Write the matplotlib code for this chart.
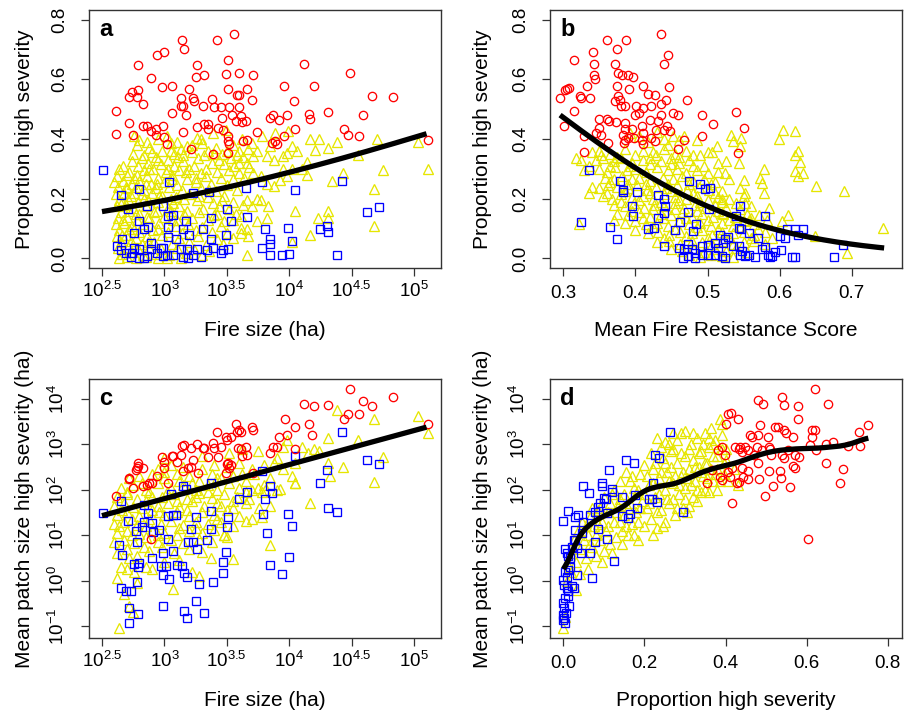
import numpy as np
import matplotlib
matplotlib.use("Agg")
import matplotlib.pyplot as plt

plt.rcParams['font.family'] = ['Liberation Sans', 'DejaVu Sans']
plt.rcParams['mathtext.fontset'] = 'custom'
plt.rcParams['mathtext.rm'] = 'Liberation Sans'
plt.rcParams['mathtext.it'] = 'Liberation Sans:italic'
plt.rcParams['mathtext.bf'] = 'Liberation Sans:bold'

# ---------------- data ----------------
# Panel a: (log10 fire size, proportion high severity)
a_high = [(2.61,0.495),(2.61,0.416),(2.72,0.454),(2.72,0.539),(2.74,0.558),(2.75,0.412),(2.78,0.539),(2.79,0.563),
 (2.79,0.649),(2.83,0.516),(2.83,0.443),(2.86,0.443),(2.89,0.603),(2.89,0.426),(2.93,0.432),(2.93,0.415),(2.94,0.682),
 (2.98,0.575),(2.99,0.443),(3.00,0.691),(3.00,0.407),(3.02,0.382),(3.06,0.488),(3.06,0.579),(3.14,0.731),(3.13,0.538),
 (3.13,0.512),(3.15,0.51),(3.16,0.70),(3.17,0.482),(3.15,0.423),(3.20,0.569),(3.21,0.368),(3.23,0.538),(3.24,0.527),
 (3.26,0.647),(3.25,0.607),(3.26,0.441),(3.32,0.613),(3.31,0.51),(3.32,0.449),(3.35,0.451),(3.35,0.434),(3.38,0.535),
 (3.40,0.507),(3.42,0.73),(3.43,0.437),(3.45,0.507),(3.46,0.469),(3.47,0.43),(3.49,0.617),(3.51,0.663),(3.51,0.566),
 (3.52,0.508),(3.54,0.48),(3.56,0.751),(3.57,0.46),(3.58,0.546),(3.60,0.622),(3.60,0.549),(3.60,0.508),(3.61,0.476),
 (3.62,0.457),(3.66,0.566),(3.65,0.461),(3.70,0.53),(3.71,0.615),(3.74,0.424),(3.51,0.393),(3.52,0.384),(3.51,0.41),
 (3.51,0.354),(3.39,0.351),(3.63,0.393),(3.66,0.398),(3.85,0.471),(3.87,0.482),(3.86,0.387),(3.89,0.393),(3.90,0.382),
 (3.92,0.462),(3.96,0.578),(3.98,0.482),(3.96,0.41),(4.04,0.526),(4.05,0.434),(4.12,0.651),(4.16,0.484),(4.17,0.468),
 (4.20,0.578),(4.31,0.491),(4.44,0.432),(4.47,0.415),(4.49,0.62),(4.56,0.41),(4.59,0.48),(4.66,0.543),(4.83,0.54),
 (5.11,0.398)]
a_low = [(2.51,0.297),(2.65,0.211),(2.80,0.231),(3.04,0.256),(3.23,0.22),(3.36,0.222),(3.65,0.237),(3.78,0.256),
 (4.05,0.228),(4.42,0.261),(2.99,0.175),(3.07,0.147),(3.03,0.142),(2.71,0.164),(2.86,0.175),(3.50,0.166),(3.37,0.136),
 (3.17,0.125),(2.80,0.125),(2.76,0.086),(2.84,0.097),(2.87,0.106),(3.03,0.105),(3.15,0.097),(3.20,0.079),(3.31,0.10),
 (3.03,0.073),(3.09,0.066),(2.66,0.066),(2.89,0.052),(2.97,0.036),(3.37,0.066),(3.49,0.077),(3.53,0.125),(3.66,0.139),
 (3.81,0.097),(3.99,0.103),(4.02,0.057),(3.85,0.066),(3.78,0.036),(3.85,0.049),(3.85,0.01),(3.94,0.01),(4.00,0.015),
 (4.25,0.097),(4.30,0.11),(4.31,0.088),(4.38,0.013),(4.62,0.155),(4.72,0.173),(2.62,0.041),(2.65,0.028),(2.69,0.017),
 (2.73,0.006),(2.76,0.036),(2.80,0.002),(2.84,0.001),(2.80,0.03),(2.89,0.032),(2.99,0.008),(3.02,0.013),(3.07,0.01),
 (3.15,0.006),(3.19,0.002),(3.23,0.01),(3.26,0.032),(3.29,0.006),(3.34,0.028),(3.39,0.036),(3.45,0.019),(3.47,0.028),
 (3.51,0.032),(2.99,0.036),(3.13,0.032),(3.18,0.032),(2.94,0.019),(2.74,0.019),(2.86,0.008)]
a_mid = [(3.89,0.42),(3.99,0.426),(3.98,0.354),(4.02,0.376),(4.06,0.359),(4.17,0.40),(4.24,0.40),(4.21,0.363),
 (4.31,0.37),(4.38,0.39),(4.70,0.40),(5.03,0.389),(5.11,0.30),(4.75,0.296),(4.68,0.231),(4.68,0.108),(4.55,0.348),
 (4.43,0.287),(4.34,0.261),(4.14,0.322),(4.14,0.281),(4.10,0.298),(4.02,0.298),(4.05,0.158),(4.23,0.136),(4.31,0.158),
 (4.31,0.136),(4.17,0.077),(4.02,0.055),(3.66,0.01),(3.82,0.136),(3.74,0.125),(3.83,0.177),(3.77,0.197),(3.74,0.20),
 (3.88,0.242),(3.82,0.248),(3.93,0.264),(3.95,0.298),(3.98,0.276),(3.95,0.343),(3.88,0.331),(3.82,0.343),(3.85,0.376),
 (3.74,0.359),(3.71,0.343),(3.66,0.32),(3.71,0.287),(3.77,0.276),(3.67,0.075),(3.66,0.097),(3.61,0.103),(3.70,0.175),
 (3.66,0.197),(3.61,0.142),(3.55,0.13),(3.61,0.086),
 (2.76,0.41),(2.80,0.395),(2.95,0.40),(3.02,0.41),(3.10,0.39),(3.26,0.405),(3.29,0.40),(3.39,0.42),(3.49,0.43),(3.62,0.40),(3.78,0.41),
 (2.78,0.38),(2.88,0.37),(3.05,0.385),(3.18,0.375),(3.30,0.385),(3.41,0.37),(3.55,0.38),(3.70,0.385),(3.60,0.36),
 (2.90,0.355),(2.98,0.36),(3.08,0.35),(3.13,0.365),(3.22,0.355),(3.35,0.36),(3.46,0.35),(3.58,0.345),(3.67,0.365),(2.84,0.345),
 (2.82,0.335),(2.93,0.34),(3.03,0.33),(3.11,0.34),(3.27,0.335),(3.32,0.345),(3.44,0.33),(3.53,0.335),(3.63,0.34),(2.74,0.325),
 (2.79,0.31),(2.87,0.32),(2.97,0.315),(3.08,0.31),(3.15,0.325),(3.24,0.31),(3.38,0.32),(3.48,0.315),(3.56,0.31),(3.68,0.305),
 (2.64,0.30),(2.72,0.29),(2.84,0.295),(2.91,0.30),(3.01,0.29),(3.12,0.295),(3.20,0.30),(3.29,0.285),(3.42,0.29),(3.52,0.295),(3.60,0.285),
 (2.62,0.275),(2.70,0.28),(2.76,0.27),(2.86,0.275),(2.95,0.27),(3.06,0.28),(3.18,0.265),(3.33,0.275),(3.45,0.27),(3.55,0.265),(3.64,0.27),
 (2.60,0.255),(2.67,0.26),(2.74,0.25),(2.80,0.26),(2.89,0.25),(3.00,0.255),(3.10,0.245),(3.25,0.255),(3.37,0.25),(3.50,0.245),
 (2.63,0.24),(2.70,0.235),(2.77,0.24),(2.84,0.23),(2.93,0.235),(3.04,0.24),(3.14,0.23),(3.29,0.235),(3.41,0.225),
 (2.61,0.215),(2.68,0.22),(2.73,0.21),(2.82,0.215),(2.90,0.22),(2.98,0.21),(3.09,0.205),(3.20,0.215),(3.35,0.205),(3.46,0.195),
 (2.64,0.195),(2.71,0.20),(2.79,0.19),(2.87,0.195),(2.95,0.19),(3.07,0.185),(3.26,0.195),(3.39,0.185),(3.55,0.19),(3.63,0.18),
 (2.62,0.175),(2.69,0.18),(2.75,0.17),(2.85,0.175),(3.03,0.17),(3.12,0.175),(3.31,0.165),(3.44,0.175),(3.52,0.165),
 (2.65,0.155),(2.72,0.16),(2.80,0.15),(2.92,0.155),(3.05,0.16),(3.16,0.15),(3.28,0.155),(3.40,0.145),(3.57,0.15),
 (2.63,0.135),(2.70,0.14),(2.78,0.13),(2.88,0.135),(3.00,0.14),(3.10,0.13),(3.22,0.135),(3.35,0.13),(3.48,0.125),
 (2.61,0.115),(2.68,0.12),(2.74,0.11),(2.83,0.115),(2.96,0.12),(3.09,0.11),(3.19,0.115),(3.30,0.105),(3.45,0.11),
 (2.64,0.095),(2.72,0.10),(2.80,0.09),(2.91,0.095),(3.03,0.09),(3.14,0.085),(3.25,0.095),(3.38,0.09),(3.50,0.085),
 (2.62,0.075),(2.69,0.08),(2.77,0.07),(2.86,0.075),(2.98,0.08),(3.12,0.07),(3.27,0.075),(3.42,0.065),(3.55,0.07),
 (2.65,0.055),(2.73,0.06),(2.82,0.05),(2.92,0.055),(3.06,0.05),(3.20,0.055),(3.33,0.045),(3.47,0.05),
 (2.63,0.035),(2.71,0.04),(2.79,0.03),(2.88,0.035),(2.97,0.03),(3.10,0.035),(3.24,0.03),(3.36,0.025),
 (2.66,0.015),(2.74,0.02),(2.83,0.01),(2.93,0.015),(3.04,0.012),(3.17,0.018),(3.30,0.01),
 (2.64,0.0),(2.70,0.005),(2.77,0.0),(2.85,0.004),(2.95,0.0),(3.02,0.003),(3.13,0.0),
 (2.67,0.31),(2.69,0.24),(2.66,0.19),(2.67,0.13),(2.66,0.08),(2.75,0.35),(2.78,0.28),(2.76,0.22),(2.77,0.15),
 (2.76,0.10),(2.86,0.39),(2.88,0.30),(2.85,0.25),(2.84,0.20),(2.86,0.14),(2.87,0.055),(2.95,0.33),(2.94,0.25),
 (2.96,0.21),(2.94,0.16),(2.95,0.10),(3.05,0.36),(3.03,0.30),(3.06,0.265),(3.05,0.20),(3.07,0.13),(3.15,0.345),
 (3.17,0.29),(3.16,0.20),(3.18,0.16),(3.22,0.38),(3.25,0.27),(3.28,0.21),(3.33,0.30),(3.36,0.23),(3.40,0.35),
 (3.42,0.15),(3.50,0.36),(3.48,0.21),(3.58,0.23),(3.60,0.32)]

# Panel b: (mean fire resistance score, proportion high severity)
b_high = [(0.296,0.538),(0.301,0.443),(0.302,0.563),(0.305,0.569),(0.308,0.572),(0.315,0.663),(0.315,0.495),
 (0.323,0.543),(0.324,0.538),(0.328,0.41),(0.329,0.356),(0.333,0.579),(0.337,0.538),(0.341,0.691),(0.342,0.65),
 (0.343,0.613),(0.344,0.602),(0.345,0.421),(0.349,0.468),(0.35,0.437),(0.352,0.415),(0.36,0.73),(0.36,0.468),
 (0.363,0.46),(0.362,0.387),(0.371,0.65),(0.373,0.456),(0.375,0.70),(0.376,0.622),(0.375,0.579),(0.371,0.527),
 (0.376,0.543),(0.379,0.532),(0.38,0.51),(0.386,0.512),(0.381,0.613),(0.387,0.73),(0.39,0.616),(0.396,0.608),
 (0.391,0.566),(0.386,0.452),(0.383,0.413),(0.385,0.432),(0.386,0.398),(0.39,0.404),(0.384,0.387),(0.395,0.432),
 (0.398,0.404),(0.401,0.51),(0.399,0.479),(0.405,0.486),(0.41,0.504),(0.41,0.579),(0.409,0.443),(0.411,0.421),
 (0.409,0.398),(0.411,0.382),(0.417,0.551),(0.42,0.465),(0.421,0.51),(0.422,0.404),(0.427,0.549),(0.427,0.393),
 (0.429,0.43),(0.432,0.46),(0.435,0.479),(0.436,0.752),(0.435,0.518),(0.439,0.65),(0.442,0.532),(0.445,0.682),
 (0.447,0.573),(0.444,0.443),(0.448,0.426),(0.44,0.429),(0.452,0.488),(0.459,0.482),(0.459,0.368),(0.467,0.398),
 (0.472,0.532),(0.492,0.41),(0.493,0.482),(0.508,0.449),(0.539,0.491),(0.542,0.352),(0.551,0.437)]
b_low = [(0.325,0.123),(0.336,0.296),(0.365,0.106),(0.375,0.066),(0.378,0.259),(0.383,0.229),(0.383,0.222),
 (0.402,0.222),(0.395,0.177),(0.397,0.142),(0.418,0.097),(0.426,0.102),(0.431,0.136),(0.431,0.214),(0.439,0.153),
 (0.439,0.198),(0.441,0.175),(0.439,0.041),(0.455,0.094),(0.462,0.122),(0.473,0.155),(0.474,0.261),(0.48,0.092),
 (0.484,0.117),(0.489,0.248),(0.497,0.233),(0.503,0.235),(0.502,0.164),
 (0.461,0.036),(0.467,0.032),(0.466,0.002),(0.473,0.008),(0.483,0.002),(0.492,0.013),(0.501,0.013),(0.51,0.01),
 (0.52,0.008),(0.524,0.002),(0.492,0.041),(0.501,0.044),(0.51,0.052),(0.515,0.036),(0.524,0.064),(0.529,0.073),
 (0.536,0.041),(0.543,0.041),(0.548,0.025),(0.54,0.142),(0.545,0.175),(0.543,0.103),(0.546,0.097),(0.557,0.086),
 (0.557,0.01),(0.566,0.006),(0.552,0.008),(0.545,0.01),(0.57,0.069),(0.58,0.142),(0.58,0.039),(0.584,0.01),
 (0.589,0.008),(0.587,0.004),(0.575,0.03),(0.593,0.021),(0.602,0.028),(0.601,0.075),(0.608,0.069),(0.61,0.097),
 (0.617,0.004),(0.622,0.004),(0.621,0.097),(0.626,0.08),(0.633,0.097),(0.675,0.004),(0.688,0.044),(0.473,0.047),
 (0.478,0.03),(0.483,0.019),(0.517,0.077),(0.522,0.052)]
b_mid = [(0.599,0.40),(0.605,0.429),(0.622,0.426),(0.626,0.359),(0.622,0.345),(0.628,0.324),(0.621,0.292),
 (0.625,0.276),(0.633,0.287),(0.651,0.242),(0.689,0.225),(0.744,0.103),(0.694,0.019),(0.649,0.075),(0.612,0.147),
 (0.604,0.125),(0.578,0.30),(0.573,0.27),(0.575,0.253),(0.578,0.22),(0.585,0.17),(0.582,0.13),(0.547,0.404),
 (0.533,0.415),(0.536,0.393),(0.545,0.376),(0.543,0.32),(0.55,0.264),(0.524,0.287),(0.515,0.32),(0.513,0.376),
 (0.501,0.356),(0.485,0.398),(0.467,0.41),(0.552,0.22),(0.552,0.186),(0.557,0.13),(0.52,0.198),(0.52,0.153),
 (0.393,0.42),(0.43,0.425),(0.452,0.41),(0.44,0.40),(0.417,0.39),(0.46,0.395),(0.405,0.41),
 (0.317,0.335),(0.325,0.33),(0.328,0.295),(0.335,0.22),(0.34,0.24),(0.322,0.115),(0.335,0.31),
 (0.34,0.355),(0.35,0.36),(0.365,0.35),(0.385,0.365),(0.41,0.36),(0.425,0.355),(0.44,0.365),(0.455,0.35),(0.47,0.36),(0.49,0.345),(0.506,0.355),
 (0.345,0.33),(0.355,0.335),(0.37,0.325),(0.38,0.335),(0.395,0.32),(0.41,0.33),(0.42,0.335),(0.435,0.325),(0.45,0.335),(0.46,0.32),(0.475,0.33),(0.495,0.31),(0.525,0.325),
 (0.35,0.30),(0.36,0.29),(0.372,0.305),(0.388,0.295),(0.40,0.30),(0.415,0.29),(0.43,0.305),(0.445,0.295),(0.458,0.30),(0.47,0.285),(0.485,0.295),(0.50,0.285),(0.515,0.29),
 (0.358,0.27),(0.37,0.265),(0.382,0.275),(0.395,0.265),(0.405,0.27),(0.42,0.26),(0.438,0.27),(0.452,0.265),(0.465,0.275),(0.48,0.26),(0.495,0.265),(0.51,0.255),(0.53,0.265),
 (0.35,0.235),(0.362,0.245),(0.375,0.24),(0.39,0.235),(0.402,0.245),(0.416,0.23),(0.428,0.24),(0.443,0.235),(0.458,0.245),(0.472,0.23),(0.488,0.24),(0.502,0.23),(0.52,0.225),(0.545,0.235),
 (0.355,0.21),(0.368,0.20),(0.38,0.215),(0.395,0.205),(0.41,0.21),(0.425,0.20),(0.44,0.215),(0.455,0.205),(0.47,0.20),(0.485,0.21),(0.50,0.195),(0.515,0.205),(0.53,0.20),(0.55,0.21),
 (0.37,0.18),(0.385,0.175),(0.398,0.185),(0.412,0.17),(0.426,0.18),(0.44,0.175),(0.455,0.185),(0.468,0.17),(0.482,0.18),(0.497,0.17),(0.51,0.18),(0.525,0.17),(0.54,0.185),(0.56,0.175),
 (0.375,0.15),(0.39,0.145),(0.405,0.155),(0.42,0.14),(0.435,0.15),(0.45,0.145),(0.465,0.155),(0.478,0.14),(0.492,0.15),(0.508,0.14),(0.522,0.15),(0.538,0.14),(0.555,0.15),(0.572,0.145),
 (0.37,0.13),(0.385,0.12),(0.40,0.125),(0.415,0.115),(0.43,0.12),(0.445,0.11),(0.46,0.125),(0.475,0.115),(0.49,0.12),(0.505,0.11),(0.52,0.12),(0.535,0.11),(0.55,0.125),(0.565,0.115),
 (0.40,0.095),(0.418,0.085),(0.432,0.09),(0.447,0.08),(0.462,0.09),(0.478,0.085),(0.492,0.095),(0.506,0.08),(0.52,0.09),(0.535,0.085),(0.55,0.09),(0.565,0.08),(0.58,0.09),
 (0.43,0.055),(0.447,0.06),(0.462,0.05),(0.478,0.06),(0.492,0.055),(0.506,0.05),(0.52,0.06),(0.535,0.05),(0.55,0.055),(0.565,0.06),(0.58,0.05),
 (0.45,0.03),(0.465,0.025),(0.48,0.035),(0.495,0.02),(0.51,0.03),(0.525,0.025),(0.54,0.035),(0.555,0.02),
 (0.475,0.01),(0.49,0.005),(0.505,0.01),(0.52,0.008),(0.535,0.005),
 (0.352,0.345),(0.375,0.34),(0.40,0.345),(0.428,0.345),(0.445,0.38),(0.46,0.34),(0.48,0.345),(0.365,0.31),
 (0.392,0.31),(0.42,0.315),(0.45,0.315),(0.48,0.31),(0.365,0.255),(0.39,0.25),(0.415,0.25),(0.445,0.25),
 (0.475,0.25),(0.505,0.25),(0.36,0.22),(0.385,0.225),(0.42,0.22),(0.45,0.225),(0.48,0.22),(0.51,0.22),
 (0.38,0.19),(0.405,0.195),(0.435,0.19),(0.46,0.195),(0.49,0.19),(0.52,0.19),(0.395,0.16),(0.425,0.165),
 (0.455,0.165),(0.485,0.16),(0.515,0.16),(0.545,0.165),(0.41,0.135),(0.44,0.135),(0.47,0.135),(0.50,0.13),
 (0.53,0.13),(0.56,0.135),(0.425,0.105),(0.455,0.10),(0.485,0.105),(0.515,0.10),(0.545,0.105),(0.57,0.10),
 (0.44,0.07),(0.47,0.075),(0.50,0.07),(0.53,0.07),(0.56,0.07),(0.59,0.07)]

# Panel c: (log10 fire size, log10 mean patch size)
c_high = [(2.61,1.86),(2.72,2.23),(2.72,2.27),(2.75,2.05),(2.79,2.58),(2.79,2.52),(2.78,2.49),(2.77,2.44),(2.83,2.47),
 (2.83,2.08),(2.86,2.11),(2.88,2.14),(2.90,2.14),(2.94,2.30),(2.89,0.91),(2.98,2.73),(3.00,2.62),(3.00,2.47),
 (3.06,2.74),(3.07,2.74),(3.03,2.14),(3.10,2.62),(3.13,2.77),(3.14,2.96),(3.16,2.99),(3.15,2.42),(3.19,2.47),
 (3.21,2.51),(3.21,2.91),(3.23,2.66),(3.26,3.00),(3.27,2.36),(3.31,2.91),(3.32,2.91),(3.35,2.73),(3.39,3.04),
 (3.42,3.27),(3.40,2.91),(3.45,2.95),(3.43,2.73),(3.49,2.36),(3.50,2.57),(3.51,2.60),(3.53,2.55),(3.52,2.47),
 (3.50,3.10),(3.49,3.16),(3.53,3.17),(3.57,3.44),(3.58,3.28),(3.60,3.32),(3.61,3.28),(3.61,2.89),(3.59,2.91),
 (3.62,2.74),(3.66,2.77),(3.65,2.94),(3.70,3.38),(3.71,3.32),(3.71,2.38),(3.85,2.82),(3.87,2.94),(3.90,2.94),
 (3.92,3.17),(3.97,3.57),(3.98,3.21),(4.05,3.38),(4.05,2.89),(4.12,3.88),(4.16,3.44),(4.18,3.21),(4.20,3.85),
 (4.31,3.87),(4.44,3.56),(4.47,3.68),(4.49,4.22),(4.56,3.68),(4.59,3.96),(4.66,3.85),(4.83,4.04),(5.11,3.44)]
c_low = [(2.51,1.48),(2.65,1.76),(2.64,0.78),(2.66,0.56),(2.65,-0.17),(2.69,-0.22),(2.73,-0.22),(2.72,-0.60),
 (2.72,-0.93),(2.79,-0.74),(2.78,-0.02),(2.71,1.32),(2.76,0.37),(2.79,0.31),(2.80,0.39),(2.77,1.10),(2.78,0.86),
 (2.82,1.19),(2.84,1.30),(2.87,1.48),(2.84,1.67),(2.90,1.26),(2.91,1.06),(2.90,0.49),(2.96,1.11),(2.97,0.32),
 (2.99,0.60),(2.99,0.12),(3.01,0.32),(2.99,-0.56),(3.03,0.91),(3.03,1.42),(3.05,1.91),(3.04,0.03),(3.07,0.66),
 (3.07,1.44),(3.09,1.44),(3.15,2.08),(3.17,2.01),(3.10,0.34),(3.14,0.32),(3.16,0.16),(3.18,0.09),(3.16,-0.66),
 (3.18,-0.83),(3.19,0.84),(3.23,0.84),(3.26,0.69),(3.21,1.13),(3.25,1.39),(3.25,-0.45),(3.28,-0.08),(3.32,-0.71),
 (3.34,0.89),(3.37,1.13),(3.37,1.54),(3.39,-0.02),(3.37,2.16),(3.47,0.17),(3.47,0.42),(3.49,0.62),(3.50,1.17),
 (3.51,1.41),(3.60,1.79),(3.66,1.96),(3.79,1.47),(3.78,2.42),(3.81,1.79),(3.82,1.04),(3.85,2.08),(3.86,1.92),
 (3.85,0.34),(3.94,0.14),(3.99,1.47),(4.00,0.51),(4.02,1.20),(4.05,2.74),(4.25,2.14),(4.30,2.44),(4.31,1.61),
 (4.38,1.52),(4.42,3.28),(4.62,2.66),(4.72,2.57)]
c_mid = [(3.0,2.7),(3.3,2.75),(3.52,2.8),(3.62,2.9),(3.75,2.85),(3.9,2.7),(3.98,3.1),(4.1,2.95),(4.15,2.82),
 (2.95,2.45),(3.05,2.55),(3.15,2.5),(3.3,2.45),(3.4,2.55),(3.5,2.5),(3.6,2.6),(3.7,2.45),(3.8,2.55),(3.95,2.45),(4.05,2.6),
 (2.72,2.25),(2.8,2.3),(2.9,2.35),(3.0,2.25),(3.1,2.35),(3.2,2.3),(3.28,2.2),(3.38,2.35),(3.45,2.25),(3.55,2.3),(3.65,2.2),(3.72,2.35),(3.85,2.25),
 (2.65,2.05),(2.75,2.1),(2.85,2.0),(2.95,2.15),(3.05,2.05),(3.15,2.1),(3.25,2.0),(3.35,2.1),(3.42,2.0),(3.52,2.15),(3.6,2.05),(3.7,2.0),(3.8,2.1),(3.9,2.0),(4.05,2.15),
 (2.62,1.85),(2.7,1.9),(2.78,1.8),(2.88,1.95),(2.98,1.85),(3.08,1.9),(3.18,1.8),(3.28,1.92),(3.38,1.82),(3.48,1.9),(3.58,1.85),(3.68,1.8),(3.78,1.95),
 (2.6,1.65),(2.68,1.7),(2.75,1.62),(2.85,1.75),(2.95,1.65),(3.03,1.7),(3.12,1.62),(3.22,1.75),(3.32,1.65),(3.42,1.72),(3.55,1.6),(3.65,1.7),(3.76,1.6),(3.85,1.65),
 (2.62,1.45),(2.7,1.5),(2.8,1.42),(2.9,1.55),(3.0,1.45),(3.1,1.52),(3.2,1.42),(3.3,1.5),(3.4,1.45),(3.5,1.55),(3.6,1.42),(3.7,1.35),(3.78,1.4),
 (2.6,1.25),(2.68,1.3),(2.78,1.22),(2.88,1.35),(2.97,1.25),(3.05,1.32),(3.15,1.22),(3.25,1.3),(3.35,1.25),(3.45,1.3),(3.55,1.2),(3.65,1.32),
 (2.62,1.05),(2.7,1.1),(2.8,1.02),(2.9,1.12),(3.0,1.05),(3.1,1.0),(3.2,1.1),(3.3,1.05),(3.4,1.12),(3.48,1.0),
 (2.6,0.85),(2.68,0.9),(2.76,0.82),(2.85,0.95),(2.95,0.85),(3.05,0.9),(3.15,0.82),(3.28,0.92),(3.38,0.85),(3.5,0.95),
 (2.62,0.6),(2.7,0.7),(2.78,0.55),(2.88,0.65),(2.98,0.75),(3.08,0.6),(3.2,0.7),(3.3,0.62),(3.37,0.5),(3.55,0.47),
 (2.65,0.3),(2.7,0.25),(2.76,0.2),(2.85,0.3),(2.9,0.25),(3.0,0.4),(3.22,0.2),(3.28,0.1),
 (2.62,0.05),(2.78,-0.05),(2.68,-0.3),(2.72,-0.55),(3.07,-0.18),(2.64,-1.05),(2.75,-0.7),
 (4.38,3.76),(4.68,3.57),(5.03,3.62),(5.11,3.24),(4.75,2.72),(4.68,2.18),(4.55,3.1),(4.31,3.14),(4.31,2.6),
 (4.33,2.3),(4.17,1.72),(4.05,2.14),(3.85,0.78),(3.81,2.0),(3.93,2.02),(3.75,2.05),(3.48,1.0),(4.24,2.85),
 (4.43,2.5),(4.20,2.9),(3.95,2.95),(4.02,2.3),(3.88,2.6),
 (2.66,1.55),(2.74,1.35),(2.82,1.6),(2.9,1.85),(2.96,1.5),(3.02,1.95),(3.1,1.75),(3.18,1.55),(3.25,1.85),
 (3.35,1.95),(3.45,1.65),(3.55,1.75),(3.65,1.95),(2.7,1.95),(2.82,2.15),(3.0,2.4),(3.12,2.2),(3.22,2.15),
 (3.42,2.25),(3.62,2.35),(2.64,1.2),(2.74,1.0),(2.85,1.2),(2.95,1.0),(3.12,1.15),(3.25,1.15),(3.42,1.35),
 (2.72,0.5),(2.84,0.75),(3.12,0.45)]

# Panel d: (proportion high severity, log10 mean patch size)
d_high = [(0.354,2.14),(0.366,2.44),(0.382,2.88),(0.391,2.94),(0.399,2.77),(0.40,3.45),(0.407,3.67),(0.414,3.70),
 (0.43,3.56),(0.417,1.72),(0.405,2.40),(0.411,2.29),(0.415,2.47),(0.423,2.95),(0.432,2.89),(0.427,2.14),(0.433,2.18),
 (0.44,2.47),(0.444,2.29),(0.448,2.95),(0.456,2.88),(0.46,3.21),(0.465,3.17),(0.456,2.42),(0.456,2.23),(0.469,2.77),
 (0.477,2.95),(0.481,3.21),(0.481,3.98),(0.481,2.58),(0.482,2.23),(0.485,3.43),(0.493,3.88),(0.496,1.86),(0.505,3.17),
 (0.507,2.94),(0.51,2.89),(0.507,2.42),(0.512,2.77),(0.516,2.08),(0.522,3.38),(0.529,3.39),(0.539,4.05),(0.543,3.87),
 (0.539,2.77),(0.543,2.69),(0.535,2.42),(0.537,2.25),(0.545,3.32),(0.549,3.26),(0.559,2.07),(0.565,3.16),(0.565,2.52),
 (0.572,2.47),(0.572,2.77),(0.578,3.85),(0.578,3.57),(0.58,2.73),(0.603,0.91),(0.609,2.99),(0.614,3.17),(0.614,3.32),
 (0.621,3.32),(0.621,4.21),(0.623,2.88),(0.647,2.58),(0.647,3.01),(0.652,3.88),(0.664,3.06),(0.682,2.16),(0.69,2.46),
 (0.701,2.96),(0.729,3.28),(0.732,2.96),(0.752,3.43),(0.436,2.95),(0.44,2.84),(0.387,2.29),(0.391,2.22),(0.489,2.88),
 (0.555,2.88)]
d_low = [(0.0,1.31),(0.012,1.54),(0.029,1.41),(0.035,1.44),(0.029,1.11),(0.004,0.69),(0.008,0.60),(0.012,0.54),
 (0.016,0.49),(0.021,0.75),(0.025,0.89),(0.016,0.31),(0.012,0.23),(0.004,0.20),(0.008,0.09),(0.0,0.01),(0.002,-0.10),
 (0.008,-0.17),(0.012,-0.22),(0.004,-0.39),(0.0,-0.50),(0.002,-0.61),(0.006,-0.71),(0.002,-0.83),(0.004,-0.94),
 (0.0,-0.76),(0.0,-0.87),(0.011,-0.35),(0.014,-0.57),(0.021,-0.12),(0.027,-0.17),(0.033,0.12),(0.044,0.60),(0.045,1.04),
 (0.049,1.28),(0.048,2.09),(0.063,1.94),(0.066,1.44),(0.066,0.60),(0.07,0.05),(0.077,0.86),(0.085,1.13),(0.085,1.63),
 (0.09,1.70),(0.095,2.08),(0.096,2.16),(0.101,1.82),(0.104,1.79),(0.107,1.48),(0.107,0.91),(0.113,2.44),(0.121,2.01),
 (0.119,1.96),(0.126,0.44),(0.144,1.42),(0.154,2.66),(0.16,1.37),(0.175,2.58),(0.177,1.89),(0.181,1.59),(0.21,1.79),
 (0.222,2.14),(0.226,2.77),(0.236,2.69),(0.23,1.74),(0.262,3.28),(0.296,1.50),(0.218,1.79),(0.078,1.50),(0.144,1.85),
 (0.164,1.47),(0.029,0.89),(0.033,0.71)]
d_mid = [(0.01,0.0),(0.015,0.3),(0.02,0.6),(0.025,0.9),(0.03,0.4),(0.035,1.1),(0.04,0.7),(0.045,1.3),(0.03,-0.2),
 (0.0,-1.05),(0.005,-0.8),(0.02,0.2),(0.04,0.15),
 (0.055,0.5),(0.06,1.0),(0.065,1.4),(0.07,0.75),(0.075,1.2),(0.08,0.55),(0.085,1.55),(0.09,0.9),(0.095,1.3),(0.1,1.85),(0.1,0.65),(0.06,0.25),
 (0.105,1.1),(0.11,1.5),(0.115,0.8),(0.12,1.9),(0.125,1.3),(0.13,0.95),(0.135,1.65),(0.14,2.2),(0.145,1.1),(0.15,1.45),(0.15,1.9),
 (0.155,2.4),(0.16,1.0),(0.165,1.7),(0.17,1.25),(0.175,2.05),(0.18,1.5),(0.185,0.9),(0.19,2.35),(0.195,1.75),(0.2,1.2),(0.2,2.55),(0.165,2.2),(0.18,1.9),
 (0.205,1.6),(0.21,2.1),(0.215,1.35),(0.22,2.45),(0.225,1.85),(0.23,1.15),(0.23,3.13),(0.235,2.25),(0.24,1.55),(0.245,2.7),(0.25,2.0),(0.25,1.3),(0.215,2.8),(0.24,2.95),
 (0.255,2.4),(0.26,1.7),(0.265,2.85),(0.27,2.15),(0.275,1.45),(0.28,2.6),(0.285,1.9),(0.29,3.25),(0.29,2.3),(0.295,1.6),(0.3,2.75),(0.3,2.05),(0.305,1.5),(0.26,3.0),(0.28,3.1),
 (0.31,2.45),(0.315,3.0),(0.32,1.85),(0.32,2.65),(0.325,2.2),(0.33,3.15),(0.335,2.5),(0.34,1.95),(0.34,2.85),(0.345,2.3),(0.35,3.25),(0.35,2.0),(0.31,1.65),(0.33,1.75),
 (0.355,2.6),(0.36,2.95),(0.365,3.35),(0.37,2.2),(0.37,2.75),(0.375,3.1),(0.38,2.45),(0.385,3.55),(0.39,3.45),(0.39,2.9),(0.395,2.35),(0.38,2.0),(0.4,2.65),(0.36,1.95),
 (0.405,2.2),(0.42,2.45),(0.43,2.1),
 (0.05,0.9),(0.055,1.2),(0.065,0.8),(0.07,1.6),(0.08,1.0),(0.085,1.25),(0.09,1.6),(0.095,0.4),(0.11,1.2),
 (0.115,1.7),(0.12,0.6),(0.125,2.0),(0.13,1.5),(0.14,1.3),(0.14,1.8),(0.145,0.8),(0.155,1.2),(0.16,1.6),
 (0.17,2.3),(0.175,1.0),(0.185,1.3),(0.185,2.0),(0.19,1.6),(0.2,1.9),(0.205,2.3),(0.21,1.7),(0.22,1.0),
 (0.22,2.15),(0.225,2.6),(0.23,1.5),(0.235,1.9),(0.24,2.4),(0.245,1.2),(0.25,2.6),(0.255,1.8),(0.26,2.2),
 (0.265,2.5),(0.27,1.8),(0.27,2.9),(0.275,2.3),(0.28,1.6),(0.285,2.1),(0.29,2.8),(0.295,2.4),(0.3,1.8),
 (0.305,2.25),(0.31,2.9),(0.315,2.1),(0.32,3.25),(0.325,2.5),(0.33,2.0),(0.335,2.8),(0.34,2.4),(0.345,3.0),
 (0.35,2.6),(0.355,2.25),(0.36,3.15),(0.365,2.45),(0.37,3.0),(0.375,2.35),(0.38,2.75),(0.385,2.2),(0.39,3.2),
 (0.395,2.6),(0.4,2.9),(0.3,3.3),(0.27,3.25),(0.25,3.05)]

# Fitted models
fit_a = (-2.979, 0.519)      # logit(prop) = b0 + b1*log10(size)
fit_b = (2.048, -7.2)        # logit(prop) = b0 + b1*FRS
fit_c = (-0.445, 0.75)       # log10(patch) = b0 + b1*log10(size)
fit_d_prop = [0.0, 0.012, 0.025, 0.041, 0.062, 0.086, 0.115, 0.144, 0.169, 0.193, 0.226, 0.259, 0.292, 0.325,
              0.358, 0.391, 0.424, 0.456, 0.489, 0.522, 0.555, 0.588, 0.621, 0.654, 0.687, 0.72, 0.752]
fit_d_logpatch = [0.09, 0.42, 0.78, 1.04, 1.22, 1.37, 1.48, 1.59, 1.78, 1.96, 2.07, 2.10, 2.18, 2.33,
                  2.44, 2.52, 2.58, 2.69, 2.79, 2.86, 2.89, 2.91, 2.91, 2.94, 2.96, 3.04, 3.16]

# ---------------- drawing ----------------
RED, BLUE, YEL = '#FF0000', '#0000FF', '#E6E600'
BOXC = '#333333'
fig = plt.figure(figsize=(9.10, 7.11), dpi=100)
W, H = 910, 711

def add_ax(l, t, r, b):
    return fig.add_axes([l / W, 1 - b / H, (r - l) / W, (b - t) / H])

axa = add_ax(89, 10, 441, 268)
axb = add_ax(550, 10, 902, 268)
axc = add_ax(89, 379, 441, 638)
axd = add_ax(550, 379, 902, 638)

def scatter_sets(ax, mid, low, high, tx, ty):
    for pts, mk, col, ms in [(mid, '^', YEL, 7.6), (low, 's', BLUE, 5.8), (high, 'o', RED, 6.0)]:
        x = tx(np.array([p[0] for p in pts]))
        y = ty(np.array([p[1] for p in pts]))
        ax.plot(x, y, linestyle='none', marker=mk, markersize=ms, markerfacecolor='none',
                markeredgecolor=col, markeredgewidth=0.95)

ident = lambda v: v
pow10 = lambda v: 10.0 ** v

scatter_sets(axa, a_mid, a_low, a_high, pow10, ident)
scatter_sets(axb, b_mid, b_low, b_high, ident, ident)
scatter_sets(axc, c_mid, c_low, c_high, pow10, pow10)
scatter_sets(axd, d_mid, d_low, d_high, ident, pow10)

LW = 3.8
xs = np.linspace(2.5, 5.1, 200)
axa.plot(10 ** xs, 1 / (1 + np.exp(-(fit_a[0] + fit_a[1] * xs))), color='black', lw=LW, solid_capstyle='butt')
xb = np.linspace(0.2955, 0.745, 200)
axb.plot(xb, 1 / (1 + np.exp(-(fit_b[0] + fit_b[1] * xb))), color='black', lw=LW, solid_capstyle='butt')
axc.plot(10 ** xs, 10 ** (fit_c[0] + fit_c[1] * xs), color='black', lw=LW, solid_capstyle='butt')
xd = np.linspace(fit_d_prop[0], fit_d_prop[-1], 300)
yd = np.interp(xd, fit_d_prop, fit_d_logpatch)
k = 9
yd_s = np.convolve(np.pad(yd, k, mode='edge'), np.ones(2 * k + 1) / (2 * k + 1), mode='same')[k:-k]
axd.plot(xd, 10 ** yd_s, color='black', lw=LW, solid_capstyle='butt')

# axes formatting
size_ticks = [2.5, 3, 3.5, 4, 4.5, 5]
size_labels = [r'$10^{2.5}$', r'$10^{3}$', r'$10^{3.5}$', r'$10^{4}$', r'$10^{4.5}$', r'$10^{5}$']
patch_ticks = [-1, 0, 1, 2, 3, 4]
patch_labels = [r'$10^{-1}$', r'$10^{0}$', r'$10^{1}$', r'$10^{2}$', r'$10^{3}$', r'$10^{4}$']
prop_ticks = [0.0, 0.2, 0.4, 0.6, 0.8]
prop_labels = ['0.0', '0.2', '0.4', '0.6', '0.8']

for ax in (axa, axc):
    ax.set_xscale('log')
    ax.set_xlim(10 ** 2.396, 10 ** 5.216)
    ax.set_xticks([10 ** t for t in size_ticks])
    ax.set_xticklabels(size_labels)
    ax.xaxis.set_minor_locator(matplotlib.ticker.NullLocator())
    ax.set_xlabel('Fire size (ha)')
for ax in (axc, axd):
    ax.set_yscale('log')
    ax.set_ylim(10 ** -1.264, 10 ** 4.44)
    ax.set_yticks([10.0 ** t for t in patch_ticks])
    ax.set_yticklabels(patch_labels)
    ax.yaxis.set_minor_locator(matplotlib.ticker.NullLocator())
    ax.set_ylabel('Mean patch size high severity (ha)')
for ax in (axa, axb):
    ax.set_ylim(-0.032, 0.832)
    ax.set_yticks(prop_ticks)
    ax.set_yticklabels(prop_labels)
    ax.set_ylabel('Proportion high severity')
axb.set_xlim(0.2815, 0.7698)
axb.set_xticks([0.3, 0.4, 0.5, 0.6, 0.7])
axb.set_xticklabels(['0.3', '0.4', '0.5', '0.6', '0.7'])
axb.set_xlabel('Mean Fire Resistance Score')
axd.set_xlim(-0.033, 0.835)
axd.set_xticks(prop_ticks)
axd.set_xticklabels(prop_labels)
axd.set_xlabel('Proportion high severity')

for ax, letter, ylx in [(axa, 'a', -64), (axb, 'b', -67), (axc, 'c', -64), (axd, 'd', -67)]:
    for sp in ax.spines.values():
        sp.set_color(BOXC)
        sp.set_linewidth(1.0)
    ax.tick_params(axis='both', direction='out', length=6, width=0.9, color=BOXC, labelsize=13.5)
    ax.tick_params(axis='x', pad=6.5)
    ax.tick_params(axis='y', pad=9, labelrotation=90)
    for lab in ax.get_yticklabels():
        lab.set_va('center')
    ax.xaxis.label.set_fontsize(15)
    ax.yaxis.label.set_fontsize(15)
    ax.xaxis.label.set_va('center')
    ax.yaxis.label.set_va('center')
    bbox = ax.get_position()
    axw = bbox.width * W
    axh = bbox.height * H
    ax.xaxis.set_label_coords(0.5, -62 / axh)
    ax.yaxis.set_label_coords(ylx / axw, 0.5)
    ax.text(10 / axw, 1 - 26 / axh, letter, transform=ax.transAxes, fontsize=17,
            fontweight='bold', ha='left', va='baseline')

for ax in (axa, axc):
    ax.tick_params(axis='x', pad=3.5)

fig.savefig('out.png', dpi=100)
